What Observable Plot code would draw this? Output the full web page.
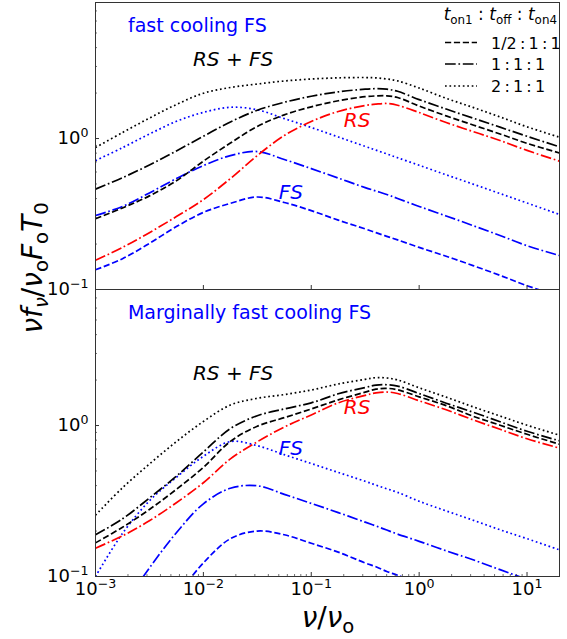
<!DOCTYPE html>
<html><head><meta charset="utf-8">
<script src="https://cdn.jsdelivr.net/npm/d3@7"></script>
<script src="https://cdn.jsdelivr.net/npm/@observablehq/plot@0.6"></script>
<style>
html,body{margin:0;padding:0;background:#fff;}
#fig{position:relative;width:567px;height:639px;}
#fig svg{position:absolute;left:0;overflow:visible;}
</style></head><body><div id="fig"></div>
<script>
// frequency grid nu/nu_o
const nu = [0.001, 0.00178, 0.00316, 0.00562, 0.01, 0.0178, 0.0316, 0.0562, 0.1, 0.178, 0.316, 0.398, 0.501, 0.631, 1, 1.78, 3.16, 5.62, 10, 20];

// top panel: fast cooling FS
const rsFast      = [0.156, 0.190, 0.238, 0.304, 0.394, 0.543, 0.771, 1.047, 1.297, 1.510, 1.656, 1.690, 1.706, 1.660, 1.486, 1.276, 1.112, 0.970, 0.834, 0.708];
const fsFastHalf  = [0.135, 0.160, 0.202, 0.261, 0.324, 0.372, 0.410, 0.377, 0.333, 0.288, 0.252, 0.238, 0.225, 0.213, 0.190, 0.166, 0.144, 0.124, 0.106, 0.090];
const fsFastOne   = [0.309, 0.355, 0.436, 0.543, 0.662, 0.771, 0.820, 0.726, 0.632, 0.547, 0.473, 0.449, 0.426, 0.401, 0.355, 0.307, 0.265, 0.228, 0.195, 0.168];
const fsFastTwo   = [0.714, 0.870, 1.07, 1.30, 1.49, 1.61, 1.55, 1.355, 1.183, 1.024, 0.887, 0.838, 0.791, 0.746, 0.665, 0.575, 0.499, 0.432, 0.374, 0.314];
const totFastHalf = [0.294, 0.347, 0.417, 0.525, 0.708, 0.933, 1.202, 1.435, 1.622, 1.778, 1.892, 1.914, 1.919, 1.870, 1.641, 1.413, 1.230, 1.072, 0.929, 0.802];
const totFastOne  = [0.462, 0.550, 0.668, 0.828, 1.035, 1.288, 1.538, 1.738, 1.905, 2.037, 2.123, 2.138, 2.123, 2.055, 1.811, 1.567, 1.365, 1.189, 1.035, 0.881];
const totFastTwo  = [0.871, 1.096, 1.365, 1.679, 1.995, 2.178, 2.296, 2.404, 2.477, 2.523, 2.535, 2.523, 2.480, 2.410, 2.160, 1.846, 1.607, 1.390, 1.195, 1.020];

// bottom panel: marginally fast cooling FS
const rsMarg      = [0.154, 0.186, 0.234, 0.308, 0.418, 0.601, 0.780, 0.977, 1.175, 1.413, 1.585, 1.644, 1.667, 1.629, 1.459, 1.271, 1.091, 0.944, 0.817, 0.708];
const fsMargHalf  = [null, null, null, 0.074, 0.123, 0.178, 0.200, 0.189, 0.166, 0.145, 0.123, 0.116, 0.108, 0.102, 0.0895, null, null, null, null, null];
const fsMargOne   = [null, 0.063, 0.114, 0.195, 0.303, 0.384, 0.399, 0.350, 0.305, 0.265, 0.229, 0.216, 0.203, 0.191, 0.171, 0.148, 0.129, 0.111, 0.0957, 0.080];
const fsMargTwo   = [0.100, 0.193, 0.317, 0.454, 0.625, 0.783, 0.735, 0.641, 0.560, 0.489, 0.427, 0.403, 0.381, 0.361, 0.315, 0.272, 0.236, 0.204, 0.178, 0.150];
const totMargHalf = [0.167, 0.212, 0.278, 0.378, 0.528, 0.785, 0.989, 1.127, 1.288, 1.479, 1.663, 1.742, 1.762, 1.725, 1.549, 1.355, 1.153, 1.005, 0.875, 0.752];
const totMargOne  = [0.189, 0.241, 0.331, 0.462, 0.668, 0.955, 1.161, 1.288, 1.413, 1.622, 1.786, 1.854, 1.862, 1.825, 1.629, 1.406, 1.225, 1.059, 0.916, 0.792];
const totMargTwo  = [0.255, 0.387, 0.556, 0.782, 1.064, 1.368, 1.514, 1.603, 1.718, 1.884, 2.023, 2.075, 2.065, 2.005, 1.778, 1.542, 1.330, 1.156, 1.005, 0.863];

// tick values
const xMajor = [0.001, 0.01, 0.1, 1, 10];
const yMajor = [0.1, 1];
const legendLabels = ["1/2 : 1 : 1", "1 : 1 : 1", "2 : 1 : 1"];
const legendTitle = [["t",1,0],["on1",0,1],[" : ",0,0],["t",1,0],["off",0,1],[" : ",0,0],["t",1,0],["on4",0,1]];

const notesFast = [
  {text: "fast cooling FS", nu: 0.002, v: 5.1, color: "#0000ff", italic: false},
  {text: "RS + FS", nu: 0.008, v: 3.0, color: "#000000", italic: true},
  {text: "RS", nu: 0.2, v: 1.2, color: "#ff0000", italic: true},
  {text: "FS", nu: 0.05, v: 0.4, color: "#0000ff", italic: true}
];
const notesMarg = [
  {text: "Marginally fast cooling FS", nu: 0.002, v: 5.1, color: "#0000ff", italic: false},
  {text: "RS + FS", nu: 0.008, v: 2.0, color: "#000000", italic: true},
  {text: "RS", nu: 0.2, v: 1.2, color: "#ff0000", italic: true},
  {text: "FS", nu: 0.05, v: 0.64, color: "#0000ff", italic: true}
];

const BLUE = "#0000ff", RED = "#ff0000", BLACK = "#000000";
const DASH = {half: "6.2,2.7", one: "10.7,2.7,1.7,2.7", two: "1.7,2.75"};
const LW = 1.7;

const W = 567, mL = 95, mR = 8;
const frameW = W - mL - mR;
const frameH = 287;

const xMinor = [];
for (let e = -3; e <= 1; e++) for (let k = 2; k <= 9; k++) { const v = k * 10 ** e; if (v <= 20) xMinor.push(v); }
const yMinor = [];
for (let e = -1; e <= 0; e++) for (let k = 2; k <= 9; k++) { const v = k * 10 ** e; if (v <= 7.96) yMinor.push(v); }

const fmt = d => "10^" + Math.round(Math.log10(d));

function series(values, color, dash) {
  return {data: nu.map((x, i) => ({x, v: values[i]})).filter(d => d.v != null), color, dash};
}

function supify(svg) {
  svg.querySelectorAll("text").forEach(t => {
    const m = /^10\^(-?\d+)$/.exec(t.textContent);
    if (!m) return;
    t.textContent = "10";
    const ts = document.createElementNS("http://www.w3.org/2000/svg", "tspan");
    ts.setAttribute("font-size", "12.6");
    ts.setAttribute("dy", "-7.5");
    ts.textContent = m[1].replace("-", "\u2212");
    t.appendChild(ts);
  });
}

function panel({lines, notes, height, marginTop, marginBottom, showX}) {
  const marks = [];
  for (const s of lines) {
    marks.push(Plot.line(s.data, {x: "x", y: "v", stroke: s.color, strokeWidth: LW, strokeDasharray: s.dash,
      strokeLinecap: "butt", strokeLinejoin: "round", curve: "catmull-rom", clip: true}));
  }
  marks.push(Plot.text(notes.filter(d => !d.italic), {x: "nu", y: "v", text: "text", fill: "color",
    textAnchor: "start", lineAnchor: "bottom", fontSize: 19}));
  marks.push(Plot.text(notes.filter(d => d.italic), {x: "nu", y: "v", text: "text", fill: "color",
    textAnchor: "start", lineAnchor: "bottom", fontSize: 20, fontStyle: "italic"}));
  marks.push(Plot.frame({stroke: "#333", strokeWidth: 1}));
  marks.push(Plot.tickX(xMajor, {x: d => d, insetTop: frameH - 4, stroke: "#333", strokeWidth: 1}));
  if (showX) marks.push(Plot.tickX(xMinor, {x: d => d, insetTop: frameH - 2, stroke: "#333", strokeWidth: 0.7}));
  marks.push(Plot.tickY(yMajor, {y: d => d, insetRight: frameW - 4, stroke: "#333", strokeWidth: 1}));
  marks.push(Plot.tickY(yMinor, {y: d => d, insetRight: frameW - 2, stroke: "#333", strokeWidth: 0.7}));
  marks.push(Plot.axisY(yMajor, {anchor: "left", tickSize: 0, tickPadding: 7, tickFormat: fmt, fontSize: 18, label: null}));
  if (showX) marks.push(Plot.axisX(xMajor, {anchor: "bottom", tickSize: 0, tickPadding: 6, tickFormat: fmt, fontSize: 18, label: null}));
  const svg = Plot.plot({
    width: W, height, marginLeft: mL, marginRight: mR, marginTop, marginBottom,
    x: {type: "log", domain: [1e-3, 20], axis: null},
    y: {type: "log", domain: [0.1, 7.96], axis: null},
    style: {fontFamily: "DejaVu Sans", overflow: "visible", background: "transparent", color: "#000"},
    marks
  });
  supify(svg);
  return svg;
}

const fig = document.getElementById("fig");

const topPanel = panel({
  lines: [
    series(fsFastHalf, BLUE, DASH.half), series(fsFastOne, BLUE, DASH.one), series(fsFastTwo, BLUE, DASH.two),
    series(rsFast, RED, DASH.one),
    series(totFastHalf, BLACK, DASH.half), series(totFastOne, BLACK, DASH.one), series(totFastTwo, BLACK, DASH.two)
  ],
  notes: notesFast, height: 289, marginTop: 2, marginBottom: 0, showX: false
});
topPanel.style.top = "0px";
fig.appendChild(topPanel);

const bottomPanel = panel({
  lines: [
    series(fsMargHalf, BLUE, DASH.half), series(fsMargOne, BLUE, DASH.one), series(fsMargTwo, BLUE, DASH.two),
    series(rsMarg, RED, DASH.one),
    series(totMargHalf, BLACK, DASH.half), series(totMargOne, BLACK, DASH.one), series(totMargTwo, BLACK, DASH.two)
  ],
  notes: notesMarg, height: 350, marginTop: 0, marginBottom: 63, showX: true
});
bottomPanel.style.top = "289px";
fig.appendChild(bottomPanel);

// overlay: axis titles and legend
const ov = d3.create("svg").attr("width", W).attr("height", 639)
  .style("top", "0px").style("pointer-events", "none")
  .attr("font-family", "DejaVu Sans");

function rich(el, parts, fs) {
  let shifted = 0;
  for (const [txt, it, sub] of parts) {
    const t = el.append("tspan").text(txt);
    if (it) t.attr("font-style", "italic");
    const target = sub ? fs * 0.22 : 0;
    if (target !== shifted) { t.attr("dy", target - shifted); shifted = target; }
    if (sub) t.attr("font-size", fs * 0.7);
  }
}

const yl = ov.append("text").attr("transform", "translate(42,268) rotate(-90)")
  .attr("text-anchor", "middle").attr("font-size", 28).attr("fill", "#000");
rich(yl, [["ν",1,0],["f",1,0],["ν",1,1],["/",0,0],["ν",1,0],["o",0,1],["F",1,0],["o",0,1],["T",1,0],["0",0,1]], 28);

const xl = ov.append("text").attr("x", 328).attr("y", 627)
  .attr("text-anchor", "middle").attr("font-size", 28).attr("fill", "#000");
rich(xl, [["ν",1,0],["/",0,0],["ν",1,0],["o",0,1]], 28);

const lt = ov.append("text").attr("x", 557).attr("y", 20).attr("text-anchor", "end").attr("font-size", 17).attr("fill", "#000");
rich(lt, legendTitle, 17);

const legendDash = [DASH.half, DASH.one, DASH.two];
const legendY = [42.5, 64, 86];
legendLabels.forEach((lab, i) => {
  ov.append("line").attr("x1", 445).attr("x2", 477).attr("y1", legendY[i]).attr("y2", legendY[i])
    .attr("stroke", "#000").attr("stroke-width", LW).attr("stroke-dasharray", legendDash[i]);
  ov.append("text").attr("x", 491).attr("y", legendY[i] + 6).attr("font-size", 16).attr("fill", "#000")
    .text(lab.replace(/ : /g, "\u2009:\u2009"));
});

fig.appendChild(ov.node());
</script></body></html>
